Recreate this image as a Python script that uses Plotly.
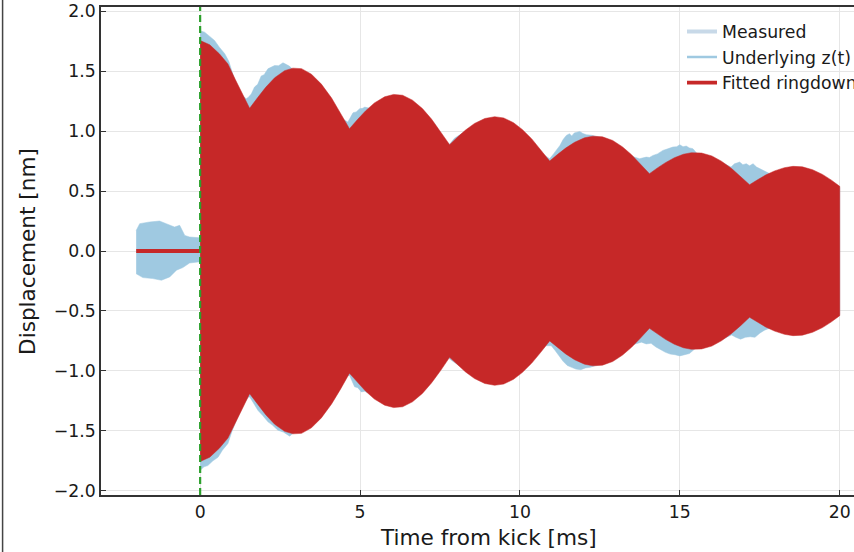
import plotly.graph_objects as go

# ---- Fitted ringdown envelope (nm), symmetric about zero, after the kick ----
t_fit = [0.0, 0.3, 0.6, 0.87, 1.1, 1.33, 1.548, 1.80, 2.05, 2.33, 2.64, 2.90, 3.17, 3.48,
         3.79, 4.11, 4.39, 4.67, 4.92, 5.17, 5.45, 5.77, 6.05, 6.33, 6.64, 6.95, 7.24,
         7.52, 7.80, 8.05, 8.30, 8.58, 8.90, 9.21, 9.49, 9.80, 10.08, 10.37, 10.65, 10.93,
         11.18, 11.43, 11.71, 12.02, 12.28, 12.58, 12.90, 13.21, 13.49, 13.77, 14.05, 14.30,
         14.55, 14.83, 15.11, 15.36, 15.68, 16.00, 16.30, 16.62, 16.90, 17.18, 17.43, 17.68,
         17.96, 18.27, 18.54, 18.83, 19.15, 19.46, 19.74, 20.0]
amp_fit = [1.756, 1.72, 1.645, 1.56, 1.43, 1.31, 1.19, 1.28, 1.365, 1.445, 1.504, 1.525,
           1.521, 1.475, 1.392, 1.276, 1.152, 1.02, 1.096, 1.168, 1.235, 1.286, 1.306, 1.299,
           1.258, 1.188, 1.099, 0.997, 0.887, 0.95, 1.009, 1.064, 1.105, 1.12, 1.11, 1.07,
           1.012, 0.935, 0.845, 0.75, 0.806, 0.858, 0.907, 0.944, 0.958, 0.952, 0.922, 0.868,
           0.803, 0.726, 0.645, 0.693, 0.737, 0.778, 0.807, 0.82, 0.817, 0.793, 0.749, 0.688,
           0.623, 0.553, 0.594, 0.633, 0.668, 0.695, 0.706, 0.702, 0.678, 0.639, 0.591, 0.539]

# Fit before the kick is flat at zero
t_fit_pre = [-2.0, 0.0]
fit_pre = [0.0, 0.0]

# ---- Measured signal envelope (nm) ----
# before the kick: thermal noise band
t_pre_hi = [-2.0, -1.89, -1.58, -1.27, -1.06, -0.80, -0.64, -0.48, -0.33, -0.07, -0.005]
pre_hi = [0.17, 0.228, 0.242, 0.25, 0.228, 0.20, 0.214, 0.13, 0.117, 0.11, 0.11]
t_pre_lo = [-2.0, -1.79, -1.48, -1.21, -0.95, -0.74, -0.54, -0.33, -0.07, -0.005]
pre_lo = [-0.19, -0.222, -0.23, -0.244, -0.216, -0.16, -0.138, -0.10, -0.092, -0.092]

# after the kick: upper and lower edges of the oscillation
t_post_hi = [0.0, 0.14, 0.30, 0.45, 0.60, 0.77, 0.90, 1.05, 1.30, 1.44, 1.50, 1.60, 1.70,
             1.80, 1.91, 2.00, 2.12, 2.22, 2.33, 2.45, 2.59, 2.70, 2.80, 2.95, 3.5, 4.1,
             4.45, 4.62, 4.70, 4.78, 4.88, 4.99, 5.08, 5.15, 5.30, 5.8, 6.6, 7.3, 7.70, 7.80,
             7.95, 8.10, 8.25, 8.6, 9.5, 10.3, 10.75, 10.93, 11.05, 11.14, 11.25, 11.35,
             11.45, 11.55, 11.62, 11.70, 11.80, 11.87, 11.97, 12.08, 12.25, 12.45, 13.0,
             13.5, 13.74, 13.85, 13.95, 14.05, 14.16, 14.30, 14.47, 14.60, 14.78, 14.90,
             15.00, 15.10, 15.20, 15.30, 15.41, 15.55, 16.3, 16.60, 16.71, 16.80, 16.87,
             16.97, 17.08, 17.18, 17.29, 17.40, 17.50, 17.60, 17.71, 17.85, 18.5, 19.5, 20.0]
post_hi = [1.837, 1.825, 1.79, 1.756, 1.70, 1.645, 1.58, 1.45, 1.30, 1.27, 1.28, 1.31, 1.367,
           1.39, 1.46, 1.47, 1.52, 1.53, 1.547, 1.545, 1.57, 1.555, 1.54, 1.50, 1.45, 1.25,
           1.10, 1.075, 1.11, 1.153, 1.16, 1.187, 1.19, 1.20, 1.19, 1.27, 1.24, 1.07, 0.91,
           0.89, 0.94, 0.965, 0.99, 1.05, 1.09, 0.94, 0.80, 0.77, 0.81, 0.839, 0.88, 0.93,
           0.964, 0.978, 0.96, 0.985, 0.99, 0.997, 0.98, 0.97, 0.965, 0.95, 0.90, 0.79,
           0.77, 0.775, 0.783, 0.78, 0.797, 0.81, 0.839, 0.85, 0.867, 0.87, 0.886, 0.87,
           0.875, 0.86, 0.853, 0.81, 0.74, 0.70, 0.728, 0.735, 0.742, 0.72, 0.728, 0.71,
           0.728, 0.70, 0.687, 0.67, 0.658, 0.64, 0.69, 0.62, 0.53]
t_post_lo = [0.0, 0.12, 0.24, 0.40, 0.56, 0.70, 0.87, 1.0, 1.3, 1.50, 1.55, 1.65, 1.81, 1.95,
             2.12, 2.25, 2.43, 2.60, 2.80, 2.95, 4.0, 4.55, 4.67, 4.83, 4.93, 5.04, 5.15,
             5.3, 6.5, 7.3, 7.75, 7.9, 8.1, 8.3, 8.6, 9.5, 10.3, 10.8, 10.98, 11.10, 11.22,
             11.35, 11.48, 11.60, 11.75, 11.90, 12.05, 12.20, 12.40, 13.0, 13.55, 13.80,
             13.95, 14.10, 14.25, 14.40, 14.55, 14.70, 14.85, 15.00, 15.15, 15.30, 15.50,
             16.3, 16.62, 16.75, 16.90, 17.05, 17.20, 17.35, 17.50, 17.65, 17.80, 18.0,
             18.5, 19.5, 20.0]
post_lo = [-1.83, -1.80, -1.79, -1.75, -1.72, -1.66, -1.605, -1.50, -1.30, -1.22, -1.217,
           -1.26, -1.33, -1.37, -1.425, -1.45, -1.494, -1.51, -1.544, -1.51, -1.30, -1.05,
           -1.036, -1.133, -1.14, -1.175, -1.17, -1.19, -1.25, -1.07, -0.89, -0.92, -0.955,
           -0.99, -1.05, -1.09, -0.94, -0.79, -0.79, -0.83, -0.87, -0.92, -0.955, -0.97,
           -0.985, -0.99, -0.975, -0.97, -0.95, -0.90, -0.78, -0.76, -0.775, -0.77, -0.80,
           -0.825, -0.845, -0.86, -0.865, -0.875, -0.865, -0.855, -0.81, -0.74, -0.70,
           -0.72, -0.735, -0.72, -0.715, -0.72, -0.685, -0.66, -0.645, -0.66, -0.69, -0.62,
           -0.53]

x_ticks = [0, 5, 10, 15, 20]
y_ticks = [-2.0, -1.5, -1.0, -0.5, 0.0, 0.5, 1.0, 1.5, 2.0]

RED = "#c62828"
BLUE = "#9fc9e1"
BLUE_PALE = "#c8d9e8"
GREEN = "#2ca02c"
FONT = "DejaVu Sans"

fig = go.Figure()

# measured band (noise before the kick, oscillation after)
for th, yh, tl, yl in [(t_pre_hi, pre_hi, t_pre_lo, pre_lo),
                       (t_post_hi, post_hi, t_post_lo, post_lo)]:
    fig.add_trace(go.Scatter(
        x=th + tl[::-1], y=yh + yl[::-1], mode="lines", fill="toself",
        fillcolor=BLUE, line=dict(color=BLUE, width=0.5),
        showlegend=False, hoverinfo="skip"))

# fitted ringdown band
fig.add_trace(go.Scatter(
    x=t_fit + t_fit[::-1], y=amp_fit + [-a for a in amp_fit[::-1]],
    mode="lines", fill="toself", fillcolor=RED, line=dict(color=RED, width=0.5),
    showlegend=False, hoverinfo="skip"))

# legend entries
fig.add_trace(go.Scatter(x=[None], y=[None], mode="lines", name="Measured",
                         legendgroup="a", line=dict(color=BLUE_PALE, width=4)))
fig.add_trace(go.Scatter(x=[None], y=[None], mode="lines", name="Underlying z(t)",
                         legendgroup="b", line=dict(color=BLUE, width=2.5)))
fig.add_trace(go.Scatter(x=t_fit_pre, y=fit_pre, mode="lines", name="Fitted ringdown",
                         legendgroup="c", line=dict(color=RED, width=3.8)))

# kick instant
fig.add_vline(x=0, line=dict(color=GREEN, width=2.2, dash="7px,4px"), layer="above")

# neighbouring panel border on the far left
fig.add_shape(type="line", xref="paper", yref="paper", x0=-0.1307, x1=-0.1307,
              y0=-0.2, y1=1.2, line=dict(color="#444444", width=1.5))

axis_common = dict(
    showgrid=True, gridcolor="#e6e6e6", gridwidth=1, zeroline=False,
    showline=True, linecolor="#333333", linewidth=1.6,
    ticks="inside", ticklen=5, tickwidth=1.3, tickcolor="#333333",
    tickfont=dict(family=FONT, size=17.3, color="#1a1a1a"),
)

fig.update_xaxes(range=[-3.1, 20.446], tickvals=x_ticks, mirror=True,
                 ticklabelstandoff=0, **axis_common)
fig.update_yaxes(range=[-2.035, 2.035], tickvals=y_ticks, tickformat=".1f",
                 ticklabelstandoff=0, **axis_common)

fig.add_annotation(text="Time from kick [ms]", xref="paper", yref="paper",
                   x=0.5149, y=-0.0861, xanchor="center", yanchor="middle",
                   showarrow=False, font=dict(family=FONT, size=21.6, color="#1a1a1a"))
fig.add_annotation(text="Displacement [nm]", xref="paper", yref="paper",
                   x=-0.0983, y=0.5, xanchor="center", yanchor="middle", textangle=-90,
                   showarrow=False, font=dict(family=FONT, size=21.6, color="#1a1a1a"))

fig.update_layout(
    width=854, height=552, autosize=False,
    margin=dict(l=101, r=0, t=7, b=57, autoexpand=False),
    paper_bgcolor="white", plot_bgcolor="white",
    font=dict(family=FONT, size=17.3, color="#1a1a1a"),
    showlegend=True,
    legend=dict(x=0.7716, y=0.986, xanchor="left", yanchor="top",
                bgcolor="rgba(255,255,255,0)", borderwidth=0,
                font=dict(family=FONT, size=17.3, color="#1a1a1a"),
                traceorder="grouped", tracegroupgap=0),
)

fig.write_html("out.html")
